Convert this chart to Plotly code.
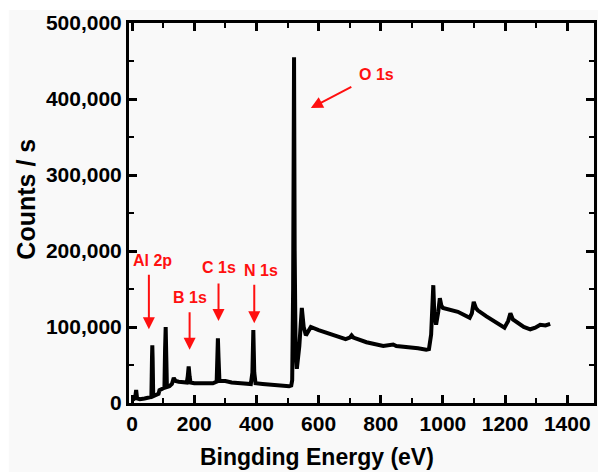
import plotly.graph_objects as go

# Binding energy (eV) and counts per second
energy = [0, 5, 10, 13, 16, 25, 40, 55, 62, 64, 65, 66, 68, 78, 85, 88, 95, 104, 106, 108,
          110, 112, 120, 128, 134, 140, 150, 165, 176, 179, 182, 185, 188, 200, 230, 260,
          272, 274, 276, 278, 281, 300, 320, 350, 382, 387, 390, 393, 397, 420, 450, 480,
          505, 512, 515, 518, 521, 523, 526, 530, 538, 546, 552, 559, 567, 575, 600, 626,
          660, 687, 700, 706, 712, 754, 808, 830, 840, 850, 882, 920, 946, 955, 962, 966,
          969, 972, 978, 985, 990, 995, 1000, 1048, 1086, 1093, 1099, 1106, 1112, 1140,
          1166, 1198, 1210, 1217, 1225, 1240, 1260, 1281, 1297, 1313, 1330, 1345]
counts_k = [4, 5, 8, 17, 6, 5, 6, 7, 8, 60, 76, 60, 9, 10, 12, 17, 18, 20, 70, 100,
            60, 21, 22, 25, 33, 29, 28, 27, 27, 35, 48, 35, 27, 26, 26, 26,
            28, 60, 85, 60, 29, 29, 27, 26, 25, 40, 96, 40, 26, 25, 24, 22,
            22, 23, 30, 150, 455, 200, 70, 45, 75, 125, 100, 89, 95, 100, 96, 92,
            88, 84, 86, 89, 86, 80, 75, 76, 77, 75, 74, 72, 70, 71, 90, 130,
            155, 120, 103, 120, 138, 128, 125, 120, 112, 118, 133, 125, 122, 114,
            107, 99, 108, 118, 110, 105, 100, 97, 99, 103, 102, 104]
counts = [v * 1000 for v in counts_k]

x_ticks = [0, 200, 400, 600, 800, 1000, 1200, 1400]
y_ticks = [0, 100000, 200000, 300000, 400000, 500000]
y_ticklabels = ["0", "100,000", "200,000", "300,000", "400,000", "500,000"]

# Peak labels: text, label position (eV, counts), arrow head (eV, counts), arrow tail offset (px)
peak_labels = ["Al 2p", "B 1s", "C 1s", "N 1s", "O 1s"]
label_pos = [(64, 187000), (185, 139000), (278, 178000), (415, 175000), (786, 432000)]
arrow_head = [(54, 97000), (185, 70000), (278, 108000), (393, 105000), (575, 388000)]
arrow_tail = [(0, -56), (0, -39), (0, -39), (0, -40), (42, -22)]

RED = "#ff1010"
FONT = "Liberation Sans"

fig = go.Figure()
fig.add_trace(go.Scatter(x=energy, y=counts, mode="lines",
                         line=dict(color="black", width=4), showlegend=False,
                         hoverinfo="skip"))

annotations = []
for t, (lx, ly), (hx, hy), (ax, ay) in zip(peak_labels, label_pos, arrow_head, arrow_tail):
    annotations.append(dict(x=lx, y=ly, xref="x", yref="y", text=t, showarrow=False,
                            xanchor="center", yanchor="middle",
                            font=dict(family=FONT, size=16, color=RED, weight="bold")))
    annotations.append(dict(x=hx, y=hy, xref="x", yref="y", text="", showarrow=True,
                            ax=ax, ay=ay, arrowcolor=RED, arrowwidth=2, arrowhead=2,
                            arrowsize=1.2, standoff=0))

# axis titles
annotations.append(dict(x=(318 - 129) / 468, y=(403 - 457) / 380, xref="paper", yref="paper",
                        xanchor="center", yanchor="middle",
                        text="Bingding Energy (eV)", showarrow=False,
                        font=dict(family=FONT, size=23, color="black", weight="bold")))
annotations.append(dict(x=(25 - 129) / 468, y=(403 - 199) / 380, xref="paper", yref="paper",
                        xanchor="center", yanchor="middle",
                        text="Counts / s", showarrow=False, textangle=-90,
                        font=dict(family=FONT, size=25, color="black", weight="bold")))

axis_common = dict(showgrid=False, zeroline=False, showline=True, linecolor="black",
                   linewidth=3, mirror="ticks", ticks="inside", ticklen=8, tickwidth=2.5,
                   tickcolor="black",
                   tickfont=dict(family=FONT, size=21, color="black", weight="bold"))

fig.update_layout(
    width=598, height=472,
    margin=dict(l=129, r=1, t=23, b=69),
    paper_bgcolor="white",
    plot_bgcolor="#f9f9f9",
    xaxis=dict(range=[-10, 1486], tickmode="array", tickvals=x_ticks,
               minor=dict(dtick=100, tick0=0, ticks="inside", ticklen=5, tickwidth=2,
                          tickcolor="black"),
               **axis_common),
    yaxis=dict(range=[0, 500000], tickmode="array", tickvals=y_ticks,
               ticktext=y_ticklabels,
               minor=dict(dtick=50000, tick0=0, ticks="inside", ticklen=5, tickwidth=2,
                          tickcolor="black"),
               **axis_common),
    annotations=annotations,
    shapes=[dict(type="rect", xref="paper", yref="paper",
                 x0=(8 - 129) / 468, x1=1.01, y0=-0.19, y1=(403 - 10) / 380,
                 fillcolor="#f9f9f9", line=dict(width=0), layer="below")],
)

fig.write_html("out.html")
